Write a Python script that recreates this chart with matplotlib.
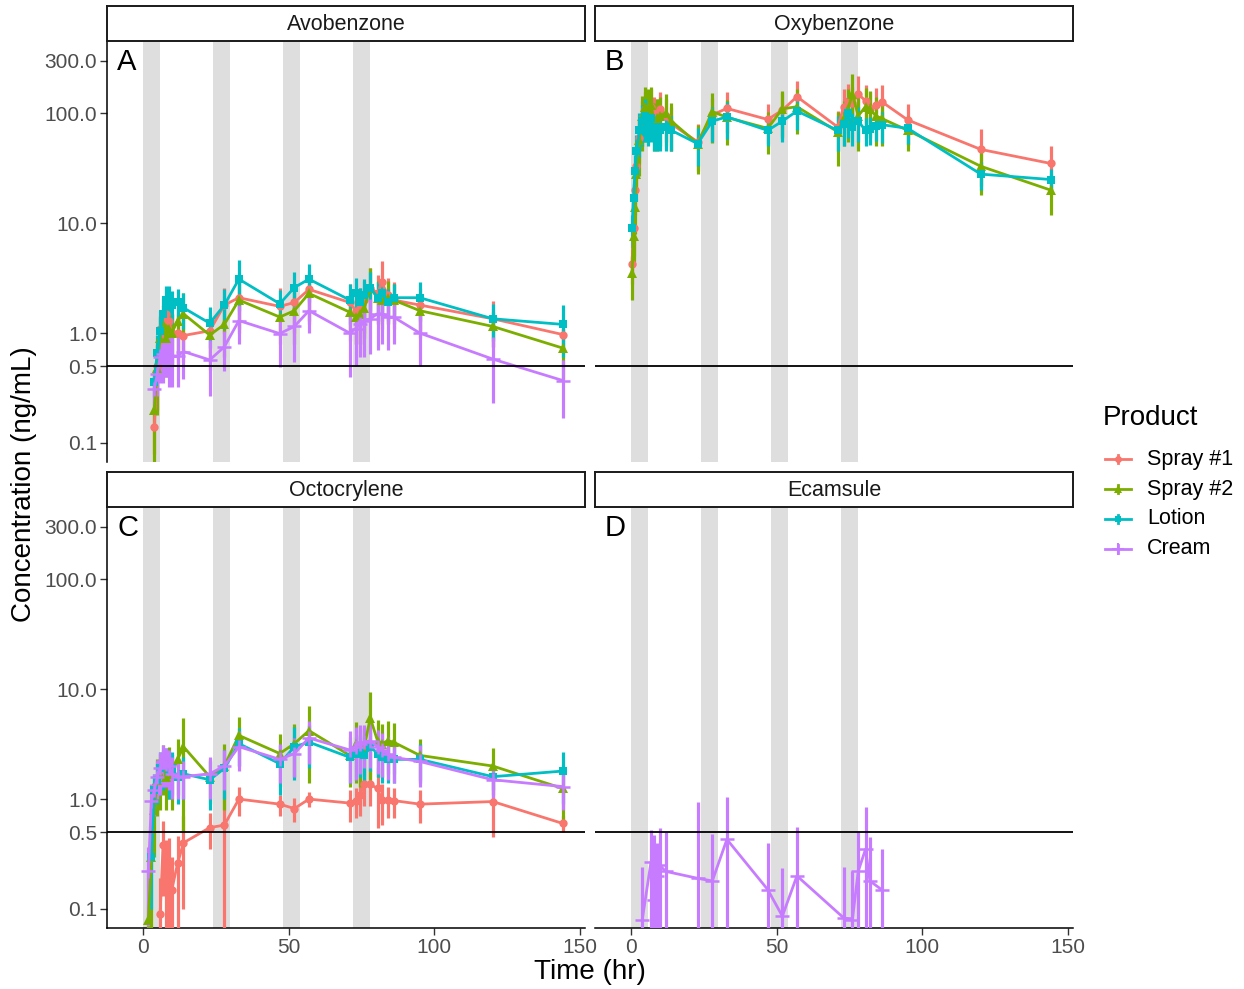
import numpy as np
import matplotlib
matplotlib.use("Agg")
import matplotlib.pyplot as plt
from matplotlib.lines import Line2D

plt.rcParams["font.family"] = ["Liberation Sans", "DejaVu Sans"]

NA = np.nan

# sampling times (hr)
TIME = [0.5, 1, 1.5, 2, 3, 4, 5, 6, 7, 8, 9, 10, 12, 14, 23, 28, 33, 47, 52, 57,
        71, 73, 74.5, 76, 78, 80.5, 82, 84, 86, 95, 120, 144]

# mean concentrations (ng/mL); SD lists hold one value per non-missing mean
AVO_S1 = [NA, NA, NA, NA, NA, 0.14, 0.5, 1.1, 1.0, 1.5, 1.3, 1.0, 1.0, 0.95, 1.05, 1.8, 2.1, 1.75, 1.9, 2.5,
          1.9, 1.6, 1.7, 2.0, 2.6, 2.3, 2.9, 2.2, 2.0, 1.8, 1.35, 0.97]
AVO_S1_SD = [.06, .3, .5, .5, .7, .6, .5, .5, .4, .5, .8, 1.0, .8, .9, 1.2, .9, .8, .9, 1.0, 1.3, 1.1, 1.6, 1.0, .9, .8, .6, .25]
AVO_S2 = [NA, NA, NA, NA, NA, 0.2, 0.48, 0.9, 1.2, 0.9, 1.1, 1.0, 1.3, 1.5, 0.96, 1.2, 2.0, 1.4, 1.6, 2.3,
          1.55, 1.4, 1.5, 1.7, 2.6, 2.1, 2.0, 2.1, 2.0, 1.6, 1.15, 0.73]
AVO_S2_SD = [.22, .3, .5, .6, .5, .6, .5, .7, .8, .5, .6, 1.0, .6, .8, 1.1, .7, .6, .7, .8, 1.3, .9, .9, .9, .8, .7, .4, .35]
AVO_LO = [NA, NA, NA, NA, NA, 0.36, 0.66, 1.04, 1.5, 2.0, 2.1, 1.8, 1.9, 1.7, 1.23, 1.8, 3.1, 1.85, 2.6, 3.1,
          2.0, 2.3, 1.9, 2.2, 2.6, 2.1, 2.3, 1.9, 2.1, 2.1, 1.35, 1.2]
AVO_LO_SD = [.1, .3, .4, .6, .7, .6, .6, .6, .6, .5, .7, 1.5, .6, 1.0, 1.2, .8, .9, .7, .9, 1.0, .8, .8, .6, .7, .8, .5, .6]
AVO_CR = [NA, NA, NA, NA, NA, 0.31, 0.42, 0.6, 0.65, 0.7, 0.62, 0.62, 0.62, 0.68, 0.57, 0.75, 1.3, 0.99, 1.15, 1.6,
          1.0, 1.1, 1.2, 1.3, 1.35, 1.5, 1.5, 1.4, 1.4, 1.0, 0.58, 0.37]
AVO_CR_SD = [.1, .15, .25, .3, .3, .3, .3, .3, .3, .3, .3, .5, .5, .6, .6, .6, .6, .6, .7, .7, .8, .7, .7, .6, .5, .35, .2]

OXY_S1 = [4.3, 9, 20, 33, 60, 90, 110, 105, 115, 100, 95, 110, 95, 80, 55, 97, 111, 88, 107, 142,
          75, 115, 130, 125, 150, 130, 110, 120, 128, 87, 47, 35]
OXY_S1_SD = [1.5, 4, 8, 12, 25, 40, 45, 45, 50, 40, 40, 45, 40, 35, 25, 40, 45, 35, 45, 55,
             30, 50, 55, 50, 70, 50, 45, 50, 55, 35, 25, 15]
OXY_S2 = [3.5, 7.7, 14, 28, 57, 95, 115, 110, 120, 85, 90, 95, 100, 85, 53, 104, 92, 73, 110, 115,
          68, 90, 110, 150, 95, 115, 110, 95, 90, 70, 33, 20]
OXY_S2_SD = [1.5, 3.5, 6, 12, 30, 50, 60, 55, 55, 40, 45, 45, 50, 40, 25, 50, 40, 30, 50, 50,
             35, 40, 55, 80, 50, 55, 50, 45, 40, 25, 15, 8]
OXY_LO = [9, 17, 30, 45, 70, 85, 95, 80, 90, 70, 75, 70, 75, 70, 53, 85, 93, 70, 85, 105,
          70, 80, 100, 75, 85, 70, 72, 76, 79, 73, 28, 25]
OXY_LO_SD = [3, 6, 12, 18, 30, 35, 40, 30, 35, 25, 30, 25, 30, 25, 20, 30, 35, 20, 30, 35,
             25, 30, 40, 25, 30, 20, 20, 20, 25, 20, 8, 6]

OCT_S1 = [NA, NA, NA, NA, NA, NA, NA, 0.09, 0.38, 0.22, 0.24, 0.15, 0.26, 0.4, 0.55, 0.58, 1.0, 0.9, 0.82, 1.0,
          0.92, 0.97, 1.1, 1.36, 1.36, 1.25, 0.98, 0.98, 0.97, 0.9, 0.95, 0.6]
OCT_S1_SD = [0.1, 0.25, 0.2, 0.2, 0.15, 0.2, 0.3, 0.2, 0.6, 0.3, 0.2, 0.2, 0.15,
             0.3, 0.3, 0.4, 0.5, 0.5, 0.7, 0.4, 0.3, 0.3, 0.3, 0.5, 0.1]
OCT_S2 = [NA, NA, NA, 0.08, 0.3, 0.8, 1.5, 1.7, 2.1, 1.6, 2.0, 1.7, 2.3, 3.0, 1.6, 2.0, 3.8, 2.6, 3.2, 4.2,
          2.5, 3.2, 2.8, 3.0, 5.5, 3.4, 3.2, 3.4, 3.3, 2.5, 2.0, 1.25]
OCT_S2_SD = [0.15, 0.3, 0.5, 0.8, 0.9, 1.0, 0.8, 1.0, 0.9, 1.2, 2.5, 0.7, 1.2, 1.8, 1.3, 1.6, 2.8,
             1.2, 1.8, 1.5, 1.5, 4.0, 1.8, 1.6, 1.7, 1.6, 1.0, 0.9, 0.6]
OCT_LO = [NA, NA, NA, NA, 0.3, 1.2, 1.5, 1.9, 2.0, 2.1, 1.8, 1.9, 1.6, 1.7, 1.5, 1.9, 3.2, 2.1, 3.0, 3.3,
          2.4, 2.6, 2.7, 2.5, 3.0, 2.6, 2.4, 2.3, 2.3, 2.3, 1.6, 1.8]
OCT_LO_SD = [0.2, 0.5, 0.6, 0.8, 0.8, 0.8, 0.8, 0.8, 0.7, 0.7, 0.7, 0.9, 1.2, 1.0, 1.5, 1.4,
             1.0, 1.1, 1.1, 1.1, 1.2, 1.0, 1.0, 0.9, 0.9, 0.9, 0.4, 0.9]
OCT_CR = [NA, NA, NA, 0.22, 0.97, 1.2, 1.6, 1.9, 2.2, 2.1, 2.0, 1.7, 1.6, 1.6, 1.7, 2.0, 3.0, 2.3, 2.6, 3.6,
          2.8, 3.0, 3.2, 3.3, 3.4, 3.0, 2.8, 2.6, 2.4, 2.2, 1.5, 1.3]
OCT_CR_SD = [0.15, 0.4, 0.5, 0.6, 0.8, 0.9, 0.8, 0.8, 0.7, 0.6, 0.6, 0.7, 0.8, 1.2, 0.9, 1.0, 1.5,
             1.4, 1.5, 1.5, 1.4, 1.5, 1.3, 1.2, 1.1, 1.0, 0.9, 0.6, 0.5]

ECA_CR = [NA, NA, NA, NA, NA, 0.08, NA, NA, 0.27, 0.12, 0.2, 0.25, 0.22, NA, 0.19, 0.18, 0.43, 0.15, 0.086, 0.2,
          NA, 0.083, NA, 0.08, 0.22, 0.35, 0.18, NA, 0.15, NA, NA, NA]
ECA_CR_SD = [0.16, 0.25, 0.35, 0.2, 0.3, 0.28, 0.76, 0.3, 0.62, 0.25, 0.15, 0.36, 0.16, 0.14, 0.28, 0.5, 0.27, 0.2]

PRODUCTS = ["Spray #1", "Spray #2", "Lotion", "Cream"]
COLORS = ["#F8766D", "#7CAE00", "#00BFC4", "#C77CFF"]
MARKERS = ["o", "^", "s", "+"]
MSIZES = [6, 7, 6, 10]

PANELS = [
    ("Avobenzone", "A", [(AVO_S1, AVO_S1_SD), (AVO_S2, AVO_S2_SD), (AVO_LO, AVO_LO_SD), (AVO_CR, AVO_CR_SD)]),
    ("Oxybenzone", "B", [(OXY_S1, OXY_S1_SD), (OXY_S2, OXY_S2_SD), (OXY_LO, OXY_LO_SD), None]),
    ("Octocrylene", "C", [(OCT_S1, OCT_S1_SD), (OCT_S2, OCT_S2_SD), (OCT_LO, OCT_LO_SD), (OCT_CR, OCT_CR_SD)]),
    ("Ecamsule", "D", [None, None, None, (ECA_CR, ECA_CR_SD)]),
]

DOSE_BANDS = [(0, 6), (24, 30), (48, 54), (72, 78)]
YTICKS = [0.1, 0.5, 1.0, 10.0, 100.0, 300.0]

W, H = 1244, 989
fig = plt.figure(figsize=(W / 100, H / 100), dpi=100)

def fx(px):
    return px / W

def fy(py):
    return 1 - py / H

panel_boxes = [(107, 41), (595, 41), (107, 507), (595, 507)]
pw, ph = 478, 421
tick_grey = "#4D4D4D"

for i, (name, letter, series) in enumerate(PANELS):
    x0, y0 = panel_boxes[i]
    ax = fig.add_axes([fx(x0), fy(y0 + ph), pw / W, ph / H])
    ax.set_yscale("log")
    ax.set_xlim(-12.2, 151.6)
    ax.set_ylim(0.0671, 456)
    for a, b in DOSE_BANDS:
        ax.axvspan(a, b, color="#DEDEDE", lw=0, zorder=0)
    ax.axhline(0.5, color="black", lw=1.3, zorder=10)

    t_all = np.array(TIME, dtype=float)
    for j, s in enumerate(series):
        if s is None:
            continue
        vals, sd = s
        y = np.array(vals, dtype=float)
        ok = ~np.isnan(y)
        t = t_all[ok]
        y = y[ok]
        sd = np.array(sd, dtype=float)
        assert len(sd) == len(y), (name, j, len(sd), len(y))
        lo = np.where(y - sd > 0, y - sd, 1e-4)
        hi = y + sd
        ax.vlines(t, lo, hi, color=COLORS[j], lw=2.3, zorder=3)
        ax.plot(t, y, color=COLORS[j], lw=2.0, marker=MARKERS[j], ms=MSIZES[j],
                mew=1.8 if MARKERS[j] == "+" else 0, zorder=4)

    for side in ["top", "right"]:
        ax.spines[side].set_visible(False)
    left_col = i % 2 == 0
    bottom_row = i >= 2
    ax.spines["left"].set_visible(left_col)
    ax.spines["bottom"].set_visible(bottom_row)
    ax.spines["left"].set_linewidth(1.1)
    ax.spines["bottom"].set_linewidth(1.1)

    ax.yaxis.set_minor_locator(matplotlib.ticker.NullLocator())
    if left_col:
        ax.set_yticks(YTICKS)
        ax.set_yticklabels([f"{v:.1f}" for v in YTICKS])
        ax.tick_params(axis="y", length=5, width=1, color="#333333",
                       labelsize=15, labelcolor=tick_grey, pad=2)
    else:
        ax.set_yticks([])
    if bottom_row:
        ax.set_xticks([0, 50, 100, 150])
        ax.tick_params(axis="x", length=5, width=1, color="#333333",
                       labelsize=15, labelcolor=tick_grey, pad=2)
    else:
        ax.set_xticks([])

    ax.text(0.021, 0.95, letter, transform=ax.transAxes, fontsize=21,
            ha="left", va="center", color="black")

    # facet strip
    sax = fig.add_axes([fx(x0), fy(y0), pw / W, 35 / H])
    sax.set_xticks([])
    sax.set_yticks([])
    for sp in sax.spines.values():
        sp.set_linewidth(1.4)
        sp.set_color("#1A1A1A")
    sax.text(0.5, 0.48, name, transform=sax.transAxes, ha="center", va="center",
             fontsize=15.5, color="#1A1A1A")

fig.text(fx(590), fy(972), "Time (hr)", ha="center", va="center", fontsize=20)
fig.text(fx(24), fy(484), "Concentration (ng/mL)", ha="center", va="center",
         rotation=90, fontsize=20)

# legend
fig.text(fx(1103), fy(418), "Product", ha="left", va="center", fontsize=20)
rows = [459, 489, 519, 549]
for j, prod in enumerate(PRODUCTS):
    yy = fy(rows[j])
    fig.add_artist(Line2D([fx(1105), fx(1131)], [yy, yy], color=COLORS[j], lw=2.0))
    fig.add_artist(Line2D([fx(1118), fx(1118)], [yy - 4 / H, yy + 4 / H], color=COLORS[j], lw=2.0))
    fig.add_artist(Line2D([fx(1118)], [yy], color=COLORS[j], marker=MARKERS[j],
                          ms=MSIZES[j] - 1, mew=1.5 if MARKERS[j] == "+" else 0, lw=0))
    fig.text(fx(1147), yy, prod, ha="left", va="center", fontsize=15.5)

fig.savefig("out.png", dpi=100)
